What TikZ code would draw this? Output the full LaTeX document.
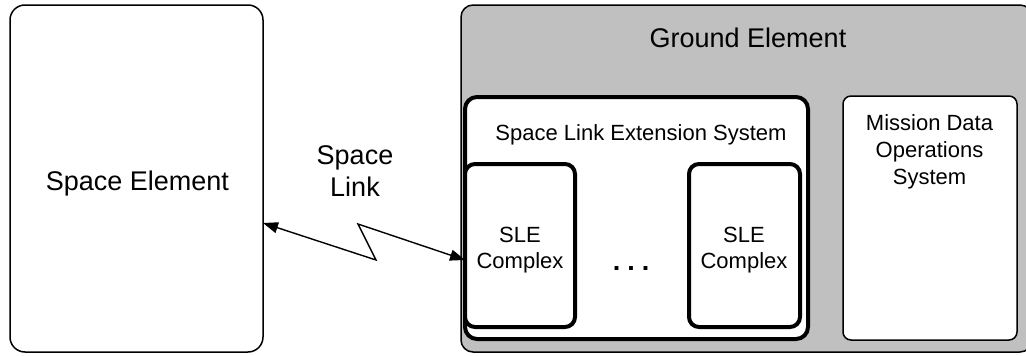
\documentclass[tikz,border=0pt]{standalone}
\usepackage{fontspec}
\setmainfont{Liberation Sans}
\usetikzlibrary{arrows.meta}
\definecolor{groundgray}{HTML}{C0C0C0}
\tikzset{
  thinbox/.style={draw=black, line width=1.5pt, rounded corners=#1, inner sep=0pt, outer sep=0pt},
  thickbox/.style={draw=black, line width=4pt, rounded corners=#1, inner sep=0pt, outer sep=0pt, fill=white},
  bigtxt/.style={font=\fontsize{27}{32}\selectfont, anchor=base, inner sep=0pt},
  smalltxt/.style={font=\fontsize{22}{27}\selectfont, anchor=base, inner sep=0pt},
  linkarrow/.style={line width=1.4pt, {Triangle[length=15pt,width=11pt]}-{Triangle[length=15pt,width=11pt]}}
}
\begin{document}
\begin{tikzpicture}[x=1pt,y=-1pt]
\useasboundingbox (0,0) rectangle (1026,356);
\clip (0,0) rectangle (1026,356);
% Space element
\node[thinbox=15pt, fill=white, minimum width=253pt, minimum height=347pt] (se) at (136.5,178.5) {};
\node[bigtxt] (setxt) at (137.5,190) {Space Element};
% Ground element
\node[thinbox=12pt, fill=groundgray, minimum width=571pt, minimum height=347pt] (ge) at (746.5,178.5) {};
\node[bigtxt] (getxt) at (748,47) {Ground Element};
% SLE system
\node[thickbox=12pt, minimum width=343pt, minimum height=242pt] (sls) at (636.5,218) {};
\node[smalltxt] (slstxt) at (641,140) {Space Link Extension System};
% SLE complexes
\node[thickbox=10pt, minimum width=110pt, minimum height=163pt] (c1) at (520,245.5) {};
\node[smalltxt] (c1a) at (520,242) {SLE};
\node[smalltxt] (c1b) at (520,268) {Complex};
\node[thickbox=10pt, minimum width=111pt, minimum height=163pt] (c2) at (744.5,245.5) {};
\node[smalltxt] (c2a) at (744,242) {SLE};
\node[smalltxt] (c2b) at (744,268) {Complex};
\node[font=\fontsize{27}{32}\selectfont\bfseries, anchor=base, inner sep=0pt] (dots) at (631,270) {.\hspace{7pt}.\hspace{7pt}.};
% MDOS
\node[thinbox=8pt, fill=white, minimum width=174pt, minimum height=244pt] (md) at (930,218) {};
\node[smalltxt] (md1) at (929.5,130) {Mission Data};
\node[smalltxt] (md2) at (929.5,157) {Operations};
\node[smalltxt] (md3) at (929.5,184) {System};
% Space link
\node[bigtxt] (sl1) at (355,164) {Space};
\node[bigtxt] (sl2) at (355,196) {Link};
\coordinate (zA) at (376,260);
\coordinate (zB) at (358,224);
\draw[linkarrow] (se.east |- 0,223) -- (zA) -- (zB) -- (c1.west |- zA);
\end{tikzpicture}
\end{document}
